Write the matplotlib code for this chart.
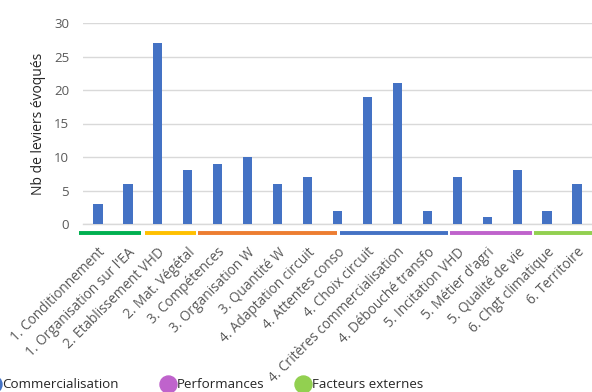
import matplotlib
matplotlib.use("Agg")
import matplotlib.pyplot as plt
import matplotlib.transforms as mtransforms
import numpy as np

plt.rcParams['font.family'] = ['Open Sans', 'DejaVu Sans']

# leviers et nombre d'occurrences
leviers = [
    "1. Conditionnement",
    "1. Organisation sur l'EA",
    "2. Etablissement VHD",
    "2. Mat. Végétal",
    "3. Compétences",
    "3. Organisation W",
    "3. Quantité W",
    "4. Adaptation circuit",
    "4. Attentes conso",
    "4. Choix circuit",
    "4. Critères commercialisation",
    "4. Débouché transfo",
    "5. Incitation VHD",
    "5. Métier d'agri",
    "5. Qualité de vie",
    "6. Chgt climatique",
    "6. Territoire",
]
nb_leviers = [3, 6, 27, 8, 9, 10, 6, 7, 2, 19, 21, 2, 7, 1, 8, 2, 6]

# traits de couleur sous l'axe (bornes en position de catégorie)
groupe_couleurs = ["#00B050", "#FFC000", "#ED7D31", "#4472C4", "#BF63CC", "#92D050"]
groupe_bornes = [(-0.62, 1.45), (1.57, 3.27), (3.34, 7.97), (8.07, 11.7),
                 (11.77, 14.5), (14.57, 16.6)]

# légende du bas
legende_noms = ["Commercialisation", "Performances", "Facteurs externes"]
legende_couleurs = ["#4472C4", "#BF63CC", "#92D050"]
legende_x = [-7, 168, 303]

W, H = 592, 392
fig = plt.figure(figsize=(W / 100, H / 100), dpi=100)
ax = fig.add_axes([83 / W, 1 - 224 / H, (592 - 83) / W, (224 - 23) / H])

x = np.arange(len(leviers))
ax.bar(x, nb_leviers, width=0.31, color="#4472C4", zorder=3)

ax.set_xlim(-0.5, len(leviers) - 0.5)
ax.set_ylim(0, 30)
ax.set_yticks(range(0, 31, 5))
ax.yaxis.grid(True, color="#D9D9D9", linewidth=1.0, zorder=0)
for s in ["top", "right", "left"]:
    ax.spines[s].set_visible(False)
ax.spines["bottom"].set_color("#D9D9D9")
ax.spines["bottom"].set_linewidth(1.0)
ax.tick_params(axis="both", length=0, colors="#595959", labelsize=9.5)
ax.tick_params(axis="y", pad=10)

ax.set_xticks(x)
ax.set_xticklabels(leviers, rotation=45, ha="right", rotation_mode="anchor",
                   fontsize=9.8, color="#595959")
ax.tick_params(axis="x", pad=15)

ax.set_ylabel("Nb de leviers évoqués", fontsize=10, color="#262626", labelpad=6)

# traits de groupe sous l'axe des x
trans = mtransforms.blended_transform_factory(ax.transData, ax.transAxes)
for (x0, x1), c in zip(groupe_bornes, groupe_couleurs):
    ax.plot([x0, x1], [-0.046, -0.046], color=c, linewidth=2.8,
            transform=trans, clip_on=False, solid_capstyle="butt")

# légende manuelle en bas de figure
lg = fig.add_axes([0, 0, 1, 1])
lg.set_xlim(0, W)
lg.set_ylim(H, 0)
lg.axis("off")
lg.patch.set_alpha(0)
for nom, c, px in zip(legende_noms, legende_couleurs, legende_x):
    lg.scatter([px], [384], s=150, color=c, clip_on=False)
    lg.text(px + 9, 384, nom, fontsize=9.6, color="#262626", va="center", ha="left")

fig.savefig("out.png", dpi=100)
